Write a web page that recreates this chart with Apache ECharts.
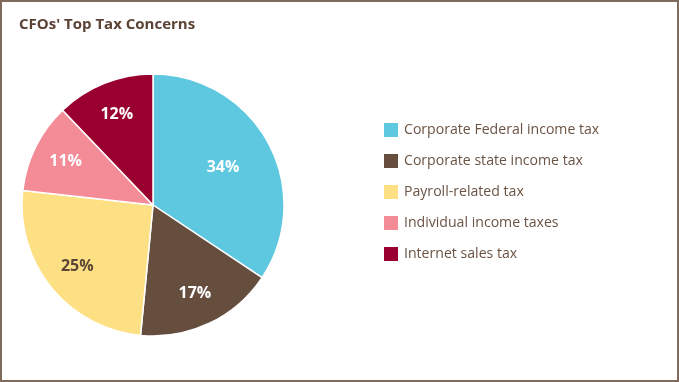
<!DOCTYPE html>
<html>
<head>
<meta charset="utf-8">
<script src="https://cdn.jsdelivr.net/npm/echarts@6/dist/echarts.min.js"></script>
<style>
html,body{margin:0;padding:0;background:#fff;}
#c{width:679px;height:382px;position:absolute;left:0;top:0;}
#frame{position:absolute;left:0;top:0;width:679px;height:382px;box-sizing:border-box;border:2px solid #806a5c;pointer-events:none;}
</style>
</head>
<body>
<div id="c"></div>
<div id="frame"></div>
<script>
const categories = ['Corporate Federal income tax','Corporate state income tax','Payroll-related tax','Individual income taxes','Internet sales tax'];
const values = [34, 17, 25, 11, 12];
const colors = ['#5ec8e0','#654e3e','#fde084','#f48c98','#990030'];
const labelColors = ['#ffffff','#ffffff','#5b4636','#ffffff','#ffffff'];

const FONT = '"Open Sans", "Noto Sans", sans-serif';
const center = [153, 205];
const R = 131;

const mainData = categories.map((n,i)=>({name:n,value:values[i],itemStyle:{color:colors[i]}}));
function labelData(showIdx){
  return categories.map((n,i)=>({name:n,value:values[i],
    itemStyle:{color:'rgba(0,0,0,0)'},
    label:{show:showIdx.indexOf(i)>=0,color:labelColors[i]}}));
}
const labelStyle = {position:'inside',formatter:'{c}%',fontFamily:FONT,fontWeight:'bold',fontSize:16};

const chart = echarts.init(document.getElementById('c'));
chart.setOption({
  animation:false,
  title:{text:"CFOs' Top Tax Concerns",left:19,top:17,padding:0,
    textStyle:{fontFamily:FONT,fontWeight:'bold',fontSize:15,color:'#5a4234'}},
  legend:{orient:'vertical',left:382,top:121,padding:0,itemWidth:16,itemHeight:16,itemGap:13,
    icon:'rect',data:categories,
    textStyle:{fontFamily:FONT,fontSize:14.1,color:'#6b5344'}},
  series:[
    {type:'pie',center:center,radius:[0,R],startAngle:90,clockwise:true,
     data:mainData,label:{show:false},labelLine:{show:false},
     itemStyle:{borderColor:'#fff',borderWidth:1.5},silent:true},
    {type:'pie',center:center,radius:[22,R],startAngle:90,clockwise:true,silent:true,
     data:labelData([0]),label:labelStyle,labelLine:{show:false}},
    {type:'pie',center:center,radius:[58,R],startAngle:90,clockwise:true,silent:true,
     data:labelData([1,2,3,4]),label:labelStyle,labelLine:{show:false}}
  ]
});
</script>
</body>
</html>
